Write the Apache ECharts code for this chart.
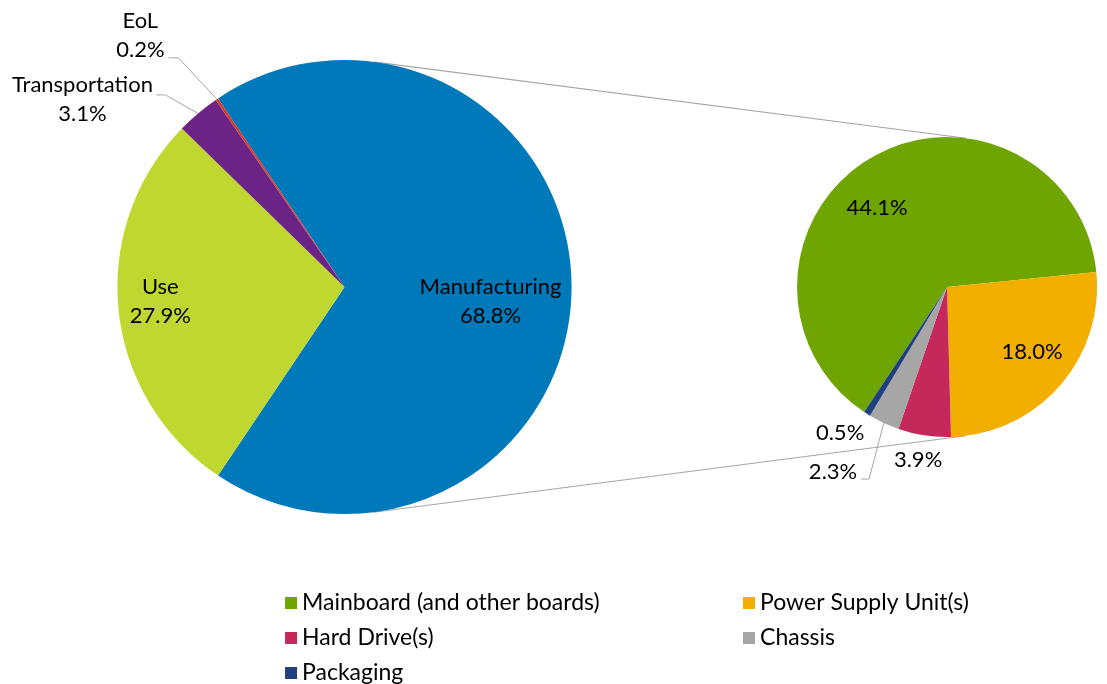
<!DOCTYPE html>
<html><head><meta charset="utf-8">
<script src="https://cdn.jsdelivr.net/npm/echarts@6/dist/echarts.min.js"></script>
<style>html,body{margin:0;padding:0;background:#fff}#chart{width:1107px;height:684px}</style>
</head><body><div id="chart"></div>
<script>
// ---- data ----
const primaryNames = ['Manufacturing', 'Use', 'Transportation', 'EoL'];
const primaryValues = [68.8, 27.9, 3.1, 0.2];
const secondaryNames = ['Mainboard (and other boards)', 'Power Supply Unit(s)', 'Hard Drive(s)', 'Chassis', 'Packaging'];
const secondaryValues = [44.1, 18.0, 3.9, 2.3, 0.5];
const legendCol1 = ['Mainboard (and other boards)', 'Hard Drive(s)', 'Packaging'];
const legendCol2 = ['Power Supply Unit(s)', 'Chassis'];

// ---- styles ----
const primaryColors = ['#0079BA', '#C0D72F', '#6C2386', '#D63A2C'];
const secondaryColors = ['#6FA500', '#F2AF00', '#C5285B', '#A6A6A6', '#1F3F7E'];
const FONT = 'Lato';
const FS = 22;
const LEGEND_FS = 23;

const chart = echarts.init(document.getElementById('chart'));
const W = chart.getWidth(), H = chart.getHeight();
const base = Math.min(W, H) / 2;
const P = { cx: 0.3112 * W, cy: 0.4196 * H, r: 0.664 * base };
const S = { cx: 0.8555 * W, cy: 0.4196 * H, r: 0.4386 * base };
const sumP = primaryValues.reduce((a, b) => a + b, 0);
const sumS = secondaryValues.reduce((a, b) => a + b, 0);
const startP = 360 * primaryValues[0] / sumP / 2;
const startS = 5.7 + 360 * secondaryValues[0] / sumS;

// label placement (offsets from pie centre, in radius units)
const labelPosP = [[0.643, 0.062], [-0.811, 0.062], [-1.154, -0.824], [-0.899, -1.110]];
const labelPosS = [[-0.467, -0.527], [0.567, 0.433], [-0.193, 1.153], [-0.76, 1.233], [-0.713, 0.973]];
// leader line bends (elbow, end) in radius units; null = no leader
const leaderP = [null, null, [[-0.789, -0.846], [-0.828, -0.846]], [[-0.731, -1.009], [-0.775, -1.009]]];
const leaderS = [null, null, null, [[-0.52, 1.28], [-0.573, 1.28]], null];

function toPx(g, v) { return [g.cx + v[0] * g.r, g.cy + v[1] * g.r]; }

function midEdge(g, values, start, idx) {
  const sum = values.reduce((a, b) => a + b, 0);
  let acc = 0;
  for (let i = 0; i < idx; i++) acc += values[i];
  const mid = start - 360 * (acc + values[idx] / 2) / sum;
  const rad = mid * Math.PI / 180;
  return [g.cx + g.r * Math.cos(rad), g.cy - g.r * Math.sin(rad)];
}

function makeData(names, values, colors, leaders) {
  return names.map((n, i) => ({
    name: n, value: values[i],
    itemStyle: { color: colors[i] },
    labelLine: { show: !!leaders[i], lineStyle: { color: '#A6A6A6', width: 1 }, length: 5, length2: 5 }
  }));
}

function layoutFor(g, values, start, pos, leaders) {
  return function (params) {
    const i = params.dataIndex;
    const p = toPx(g, pos[i]);
    const res = { x: p[0], y: p[1], align: 'center', verticalAlign: 'middle' };
    if (leaders[i]) {
      res.labelLinePoints = [midEdge(g, values, start, i), toPx(g, leaders[i][0]), toPx(g, leaders[i][1])];
    }
    return res;
  };
}

const labelStyle = { fontFamily: FONT, fontSize: FS, lineHeight: 29, color: '#000' };
const legendBase = {
  orient: 'vertical', top: 591, height: 150, itemWidth: 12, itemHeight: 12, itemGap: 11, icon: 'rect',
  padding: 0, selectedMode: false,
  textStyle: { fontFamily: FONT, fontSize: LEGEND_FS, color: '#000', lineHeight: 24 }
};

// connector lines: external tangents of both pies
const d = S.cx - P.cx;
const sinT = (P.r - S.r) / d, cosT = Math.sqrt(1 - sinT * sinT);
const lineStyle = { stroke: '#A6A6A6', lineWidth: 1.2 };

const option = {
  backgroundColor: '#fff',
  animation: false,
  legend: [
    Object.assign({}, legendBase, { data: legendCol1, left: 0.2575 * W }),
    Object.assign({}, legendBase, { data: legendCol2, left: 0.6712 * W })
  ],
  graphic: [
    { type: 'line', z: 0, shape: { x1: P.cx + P.r * sinT, y1: P.cy - P.r * cosT, x2: S.cx + S.r * sinT, y2: S.cy - S.r * cosT }, style: lineStyle },
    { type: 'line', z: 0, shape: { x1: P.cx + P.r * sinT, y1: P.cy + P.r * cosT, x2: S.cx + S.r * sinT, y2: S.cy + S.r * cosT }, style: lineStyle }
  ],
  series: [
    {
      type: 'pie', center: [P.cx, P.cy], radius: [0, P.r], startAngle: startP, clockwise: true,
      avoidLabelOverlap: false, silent: true,
      itemStyle: { borderWidth: 0 },
      label: Object.assign({ show: true, position: 'outside',
        formatter: p => p.name + '\n' + p.value.toFixed(1) + '%' }, labelStyle),
      labelLayout: layoutFor(P, primaryValues, startP, labelPosP, leaderP),
      data: makeData(primaryNames, primaryValues, primaryColors, leaderP)
    },
    {
      type: 'pie', center: [S.cx, S.cy], radius: [0, S.r], startAngle: startS, clockwise: true,
      avoidLabelOverlap: false, silent: true,
      itemStyle: { borderWidth: 0 },
      label: Object.assign({ show: true, position: 'outside',
        formatter: p => p.value.toFixed(1) + '%' }, labelStyle),
      labelLayout: layoutFor(S, secondaryValues, startS, labelPosS, leaderS),
      data: makeData(secondaryNames, secondaryValues, secondaryColors, leaderS)
    }
  ]
};
chart.setOption(option);
</script>
</body></html>
